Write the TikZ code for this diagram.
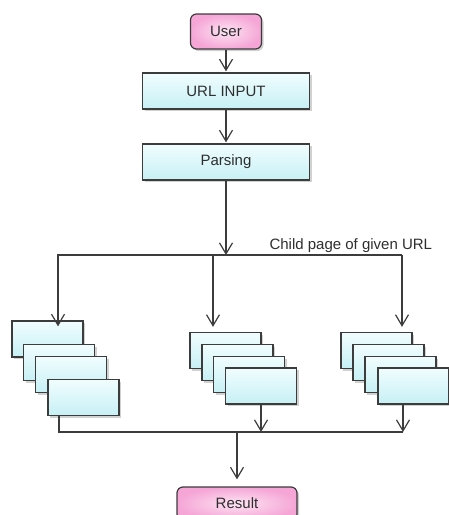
\documentclass[tikz,border=0pt]{standalone}
\usepackage{fontspec}
\newfontfamily\flowfont{Liberation Sans}
\usetikzlibrary{arrows.meta,shadows}
\definecolor{pagecyan}{HTML}{C6F0F5}
\definecolor{pagelight}{HTML}{F1FDFE}
\definecolor{endpink}{HTML}{F5A6D6}
\definecolor{endlight}{HTML}{FDE4F3}
\definecolor{edgegrey}{HTML}{3C3C3C}
\definecolor{inkgrey}{HTML}{2E2E2E}
\tikzset{
  glow/.style={drop shadow={shadow xshift=2pt, shadow yshift=-2pt, opacity=0.18, fill=black}},
  page/.style={draw=edgegrey, line width=1.3pt, minimum width=71pt, minimum height=36pt,
    top color=pagelight, bottom color=pagecyan, glow},
  step box/.style={page, minimum width=167pt},
  endbox/.style={draw=edgegrey, line width=1.2pt, rounded corners=6pt, inner color=endlight,
    outer color=endpink, glow},
  wire/.style={draw=edgegrey, line width=1.2pt},
  flow/.style={wire, -{Straight Barb[length=11pt,width=13pt]}}
}
\begin{document}
\begin{tikzpicture}[x=1pt, y=-1pt, font=\flowfont\fontsize{15}{18}\selectfont, text=inkgrey]
    \useasboundingbox (0,0) rectangle (448,515);
    \node[endbox, minimum width=71pt, minimum height=35pt] (user) at (226,31.5) {User};
    \node[step box] (url) at (226,91) {URL INPUT};
    \node[step box] (parse) at (226,162) {Parsing};
    \foreach \n/\x/\y in {l1/47.5/339, l2/59/362.5, l3/71/374.5, l4/83.5/397.5,
                          m1/225.5/350.5, m2/237.5/362.5, m3/249/374.5, m4/261/386,
                          r1/376.5/350.5, r2/388.5/362.5, r3/400.5/374.5, r4/413.5/386}
        \node[page] (\n) at (\x,\y) {};
    \node[endbox, minimum width=120pt, minimum height=33pt] (result) at (237,503.5) {Result};
    \node[anchor=base west] (child) at (266,249) {Child page of given URL};
    \coordinate (hub) at (226,255);
    \coordinate (busL) at (57,255);
    \coordinate (busR) at (402,255);
    \coordinate (dropL) at (58,255);
    \coordinate (dropM) at (213,255);
    \coordinate (sumL) at (59,432);
    \coordinate (sumM) at (237,432);
    \coordinate (sumR) at (403,432);
    \draw[flow, shorten >=1pt] (user) -- (url);
    \draw[flow, shorten >=1pt] (url) -- (parse);
    \draw[flow] (parse) -- (hub);
    \draw[wire] (busL) -- (busR);
    \draw[flow, shorten >=-6pt] (dropL) -- (dropL |- l1.north);
    \draw[flow, shorten >=5pt] (dropM) -- (dropM |- m1.north);
    \draw[flow, shorten >=5pt] (busR) -- (busR |- r1.north);
    \draw[wire] (l4.south -| sumL) -- (sumL) -- (sumR);
    \draw[flow] (m4.south) -- (m4.south |- sumM);
    \draw[flow] (r4.south -| sumR) -- (sumR);
    \draw[flow, shorten >=7pt] (sumM) -- (result);
\end{tikzpicture}
\end{document}
